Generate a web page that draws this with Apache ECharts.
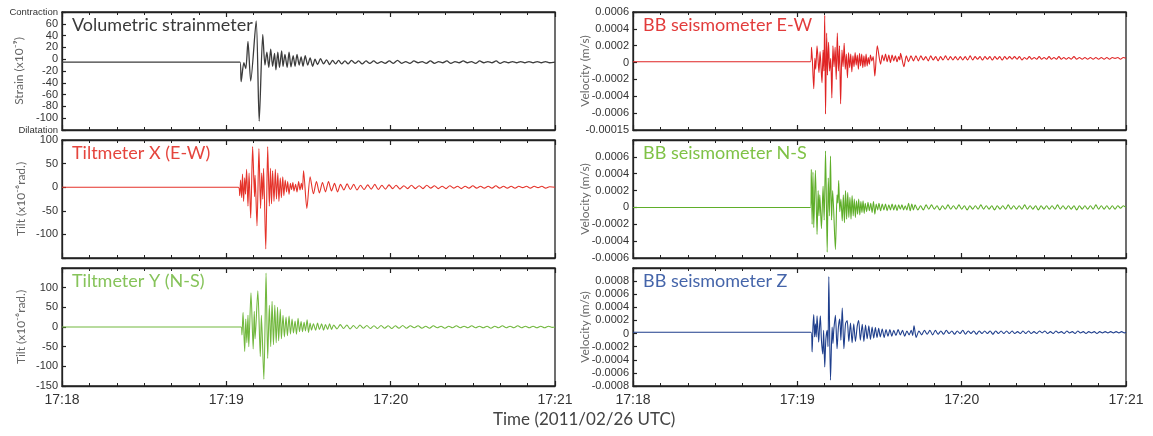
<!DOCTYPE html>
<html>
<head>
<meta charset="utf-8">
<script src="https://cdn.jsdelivr.net/npm/echarts@6/dist/echarts.min.js"></script>
<style>html,body{margin:0;padding:0;background:#fff;}#c{width:1153px;height:436px;}</style>
</head>
<body>
<div id="c"></div>
<script>
// time in seconds after 17:18:00 (2011/02/26 UTC)
const timeLabels = ['17:18', '17:19', '17:20', '17:21'];

const panelTitles = ['Volumetric strainmeter', 'Tiltmeter X (E-W)', 'Tiltmeter Y (N-S)',
  'BB seismometer E-W', 'BB seismometer N-S', 'BB seismometer Z'];

// Volumetric strain (x10^-9)
const strainData = [[0,-5],[65.0,-5],[65.4,-38],[66.4,-6],[67.1,-16],[67.9,30],[68.9,-37],[70.9,65],[72.0,-105],[73.3,42],[74.1,-10],[74.8,12],[75.5,-14],[76.2,17],[76.9,-12],[77.6,10],[78.1,-18],[78.8,12],[79.4,-14],[80.2,14],[80.7,-12],[81.4,8],[82.2,-14],[82.9,12],[83.6,-13],[84.4,6],[85.1,-12],[85.8,8],[86.6,-10],[87.3,4],[88.0,-12],[88.8,6],[89.7,-10],[90.6,2],[91.5,-12],[92.4,0],[93.3,-9],[94.4,1],[95.5,-8],[96.6,-1],[97.7,-9],[98.8,-2],[99.9,-8],[101.0,-2],[102.1,-8],[103.3,-3],[104.5,-8],[105.7,-2],[107,-7],[108.3,-3],[109.6,-8],[111,-3],[112.4,-7],[113.8,-3],[115.2,-7],[116.6,-4],[118,-7],[119.5,-3],[121,-7],[122.5,-2],[124,-7],[125.5,-4],[127,-7],[128.5,-3],[130,-6],[131.5,-4],[133,-7],[134.5,-3],[136,-7],[137.5,-4],[139,-6],[140.5,-3],[142,-7],[143.5,-4],[145,-6],[146.5,-3],[148,-6],[149.5,-4],[151,-7],[152.5,-3],[154,-6],[155.5,-4],[157,-6],[158.5,-3],[160,-7],[161.5,-4],[163,-6],[164.5,-4],[166,-6],[167.5,-4],[169,-6],[170.5,-4],[172,-6],[173.5,-4],[175,-6],[176.5,-4],[178,-6],[180,-5]];

// Tilt X (E-W) (x10^-6 rad.)
const tiltXData = [[0,0],[64.4,0],[64.9,-18],[65.2,15],[65.6,-22],[65.9,28],[66.3,-30],[66.7,20],[67.0,-15],[67.4,38],[67.9,-40],[68.3,30],[68.9,-65],[69.6,86],[70.3,-20],[70.5,25],[71.2,-82],[71.9,82],[72.5,-45],[72.9,30],[73.3,-25],[73.6,40],[74.4,-131],[75.1,86],[75.7,-40],[76.1,40],[76.5,-35],[76.9,35],[77.4,-30],[77.9,38],[78.3,-25],[78.8,30],[79.2,-30],[79.7,20],[80.1,-22],[80.6,22],[81.0,-18],[81.5,15],[82.0,-10],[82.4,12],[82.9,-15],[83.4,8],[83.8,-5],[84.3,10],[84.7,-8],[85.3,6],[85.8,-10],[86.4,12],[86.9,-6],[87.4,8],[87.8,-5],[88.2,35],[89.4,-45],[90.6,22],[91.8,-14],[92.9,12],[94.0,-12],[95.1,10],[96.2,-10],[97.3,12],[98.4,-8],[99.5,8],[100.6,-10],[101.7,6],[102.9,-6],[104.1,7],[105.3,-5],[106.5,6],[107.7,-6],[109,4],[110.3,-5],[111.6,5],[112.9,-4],[114.2,6],[115.5,-5],[116.8,4],[118.1,-4],[119.4,5],[120.7,-3],[122,4],[123.4,-4],[124.8,3],[126.2,-3],[127.6,4],[129,-3],[130.4,3],[131.8,-3],[133.2,4],[134.6,-2],[136,3],[137.4,-3],[138.8,2],[140.2,-3],[141.6,3],[143,-2],[144.4,2],[145.8,-3],[147.2,2],[148.6,-2],[150,3],[151.4,-2],[152.8,2],[154.2,-2],[155.6,2],[157,-2],[158.4,3],[159.8,-2],[161.2,2],[162.6,-2],[164,2],[165.4,-2],[166.8,2],[168.2,-1],[169.6,2],[171,-2],[172.4,2],[173.8,-1],[175.2,2],[176.6,-2],[178,1],[180,0]];

// Tilt Y (N-S) (x10^-6 rad.)
const tiltYData = [[0,0],[65.4,0],[65.7,-20],[66.1,37],[66.7,-62],[67.1,20],[67.5,-40],[67.9,30],[68.2,-50],[69.0,87],[69.8,-56],[70.2,40],[70.5,-30],[71.5,92],[72.4,-75],[72.8,30],[73.7,-133],[74.5,137],[75.1,-80],[75.7,55],[76.2,-50],[76.7,65],[77.2,-45],[77.7,55],[78.2,-40],[78.7,50],[79.1,-35],[79.7,45],[80.1,-30],[80.7,30],[81.2,-25],[81.8,25],[82.3,-22],[82.9,28],[83.4,-18],[84.0,20],[84.5,-15],[85.1,15],[85.6,-18],[86.2,22],[86.7,-12],[87.3,14],[87.8,-12],[88.4,12],[88.9,-10],[89.5,18],[90.0,-14],[90.6,10],[91.1,-8],[91.8,8],[92.6,-8],[93.3,10],[94.0,-6],[94.8,8],[95.5,-8],[96.2,6],[97.0,-6],[97.7,8],[98.4,-6],[99.2,5],[100.4,-5],[101.6,6],[102.8,-4],[104,5],[105.2,-5],[106.4,4],[107.6,-4],[108.8,5],[110,-3],[111.3,4],[112.6,-4],[113.9,3],[115.2,-4],[116.5,4],[117.8,-3],[119.1,3],[120.4,-4],[121.7,3],[123,-3],[124.4,4],[125.8,-3],[127.2,3],[128.6,-2],[130,3],[131.4,-3],[132.8,2],[134.2,-3],[135.6,3],[137,-2],[138.4,2],[139.8,-3],[141.2,2],[142.6,-2],[144,3],[145.4,-2],[146.8,2],[148.2,-2],[149.6,3],[151,-2],[152.4,2],[153.8,-2],[155.2,2],[156.6,-3],[158,2],[159.4,-2],[160.8,3],[162.2,-2],[163.6,2],[165,-2],[166.4,3],[167.8,-2],[169.2,2],[170.6,-2],[172,2],[173.4,-2],[174.8,2],[176.2,-2],[177.6,2],[179,-1],[180,0]];

// BB seismometer E-W velocity (m/s)
const ewData = [[0,0.1e-4],[64.8,0.1e-4],[65.2,1.8e-4],[66.0,-3.1e-4],[66.4,0.5e-4],[66.7,-0.8e-4],[67.2,2.0e-4],[67.9,-1.2e-4],[68.3,1.3e-4],[69.0,-2.4e-4],[69.4,1.5e-4],[69.7,-1.0e-4],[70.0,5.6e-4],[70.3,-6.1e-4],[70.7,3.5e-4],[71.0,-1.5e-4],[71.4,2.4e-4],[71.8,-1.0e-4],[72.2,0.5e-4],[72.6,-4.2e-4],[73.0,2.0e-4],[73.4,-0.5e-4],[73.8,1.8e-4],[74.2,-2.0e-4],[74.6,3.5e-4],[75.0,-1.0e-4],[75.4,2.0e-4],[75.8,-4.9e-4],[76.3,1.5e-4],[76.7,-0.5e-4],[77.1,2.3e-4],[77.5,-0.8e-4],[77.9,1.0e-4],[78.3,-1.8e-4],[78.7,1.2e-4],[79.1,-0.6e-4],[79.5,1.0e-4],[79.9,-1.1e-4],[80.3,0.8e-4],[80.7,-0.5e-4],[81.1,1.2e-4],[81.5,-0.3e-4],[81.9,0.9e-4],[82.3,-0.8e-4],[82.7,1.1e-4],[83.1,-0.4e-4],[83.5,1.0e-4],[83.9,-0.6e-4],[84.3,0.8e-4],[84.7,-0.5e-4],[85.1,1.0e-4],[85.5,-0.4e-4],[85.9,0.6e-4],[86.3,-0.2e-4],[86.7,0.9e-4],[87.2,0.2e-4],[87.7,0.7e-4],[88.3,-1.6e-4],[89.2,2.0e-4],[90.4,-0.2e-4],[91.0,0.9e-4],[91.6,0.2e-4],[92.2,1.0e-4],[92.8,0.1e-4],[93.4,0.9e-4],[94.0,0.0],[94.6,0.9e-4],[95.2,0.2e-4],[95.8,0.8e-4],[96.4,0.1e-4],[97.0,0.7e-4],[97.4,0.3e-4],[97.7,1.1e-4],[98.9,-0.5e-4],[99.8,0.8e-4],[100.6,0.1e-4],[101.5,0.8e-4],[102.4,0.2e-4],[103.3,0.8e-4],[104.2,0.2e-4],[105.1,0.8e-4],[106,0.3e-4],[106.9,0.7e-4],[107.8,0.2e-4],[108.7,0.8e-4],[109.6,0.3e-4],[110.5,0.7e-4],[111.4,0.2e-4],[112.3,0.7e-4],[113.2,0.3e-4],[114.1,0.8e-4],[115,0.3e-4],[115.9,0.7e-4],[116.8,0.3e-4],[117.7,0.7e-4],[118.6,0.3e-4],[119.5,0.7e-4],[120.4,0.3e-4],[121.3,0.7e-4],[122.2,0.3e-4],[123.1,0.8e-4],[124,0.3e-4],[124.9,0.7e-4],[125.8,0.4e-4],[126.7,0.7e-4],[127.6,0.3e-4],[128.5,0.7e-4],[129.4,0.4e-4],[130.3,0.7e-4],[131.2,0.3e-4],[132.1,0.7e-4],[133,0.4e-4],[133.9,0.7e-4],[134.8,0.3e-4],[135.7,0.7e-4],[136.6,0.4e-4],[137.5,0.7e-4],[138.4,0.4e-4],[139.3,0.7e-4],[140.2,0.4e-4],[141.1,0.7e-4],[142,0.3e-4],[142.9,0.6e-4],[143.8,0.4e-4],[144.7,0.7e-4],[145.6,0.4e-4],[146.5,0.6e-4],[147.4,0.4e-4],[148.3,0.7e-4],[149.2,0.4e-4],[150.1,0.6e-4],[151,0.4e-4],[151.9,0.7e-4],[152.8,0.4e-4],[153.7,0.6e-4],[154.6,0.4e-4],[155.5,0.7e-4],[156.4,0.4e-4],[157.3,0.6e-4],[158.2,0.4e-4],[159.1,0.6e-4],[160,0.4e-4],[161,0.7e-4],[162,0.4e-4],[163,0.6e-4],[164,0.4e-4],[165,0.6e-4],[166,0.4e-4],[167,0.6e-4],[168,0.4e-4],[169,0.6e-4],[170,0.4e-4],[171,0.6e-4],[172,0.4e-4],[173,0.6e-4],[174,0.4e-4],[175,0.6e-4],[176,0.5e-4],[177,0.6e-4],[178,0.4e-4],[179,0.6e-4],[180,0.5e-4]];

// BB seismometer N-S velocity (m/s)
const nsData = [[0,0],[64.8,0],[65.1,4.5e-4],[65.4,-2.0e-4],[65.7,4.2e-4],[66.0,-2.4e-4],[66.6,4.4e-4],[67.2,-3.2e-4],[67.6,2.0e-4],[67.9,-1.0e-4],[68.2,1.5e-4],[68.8,-2.5e-4],[69.4,2.5e-4],[69.8,-1.5e-4],[70.3,6.7e-4],[70.9,-5.3e-4],[71.3,3.5e-4],[71.7,-1.0e-4],[72.1,6.1e-4],[72.5,-1.5e-4],[72.9,2.0e-4],[73.9,-5.0e-4],[74.5,1.5e-4],[74.8,0.5e-4],[75.1,3.2e-4],[75.5,-0.5e-4],[75.9,1.0e-4],[76.4,-1.6e-4],[76.8,1.5e-4],[77.2,-1.8e-4],[77.6,2.0e-4],[78.0,-1.4e-4],[78.4,1.8e-4],[78.8,-1.2e-4],[79.2,1.2e-4],[79.6,-1.4e-4],[80.0,1.4e-4],[80.4,-1.0e-4],[80.8,1.0e-4],[81.2,-1.2e-4],[81.6,0.8e-4],[82.0,-0.8e-4],[82.4,1.0e-4],[82.8,-0.9e-4],[83.2,0.7e-4],[83.6,-0.6e-4],[84.0,0.8e-4],[84.4,-0.7e-4],[84.8,0.5e-4],[85.3,-0.5e-4],[85.8,0.6e-4],[86.3,-0.4e-4],[86.8,0.5e-4],[87.3,-0.6e-4],[87.8,0.7e-4],[88.3,-0.8e-4],[88.8,0.4e-4],[89.3,-0.3e-4],[89.8,0.5e-4],[90.4,-0.4e-4],[91.0,0.4e-4],[91.6,-0.3e-4],[92.2,0.4e-4],[92.8,-0.4e-4],[93.4,0.3e-4],[94,-0.3e-4],[94.6,0.4e-4],[95.2,-0.3e-4],[95.8,0.3e-4],[96.4,-0.4e-4],[97,0.3e-4],[97.6,-0.2e-4],[98.2,0.3e-4],[98.8,-0.3e-4],[99.4,0.2e-4],[100,-0.3e-4],[100.6,0.5e-4],[101.2,-0.4e-4],[101.8,0.4e-4],[102.4,-0.3e-4],[103,0.3e-4],[104,-0.3e-4],[105,0.2e-4],[106,-0.3e-4],[107,0.3e-4],[108,-0.2e-4],[109,0.3e-4],[110,-0.2e-4],[111,0.2e-4],[112,-0.3e-4],[113,0.2e-4],[114,-0.2e-4],[115,0.3e-4],[116,-0.2e-4],[117,0.2e-4],[118,-0.2e-4],[119,0.3e-4],[120,-0.2e-4],[121,0.2e-4],[122,-0.3e-4],[123,0.2e-4],[124,-0.2e-4],[125,0.2e-4],[126,-0.2e-4],[127,0.3e-4],[128,-0.2e-4],[129,0.2e-4],[130,-0.2e-4],[131,0.2e-4],[132,-0.3e-4],[133,0.2e-4],[134,-0.2e-4],[135,0.2e-4],[136,-0.2e-4],[137,0.3e-4],[138,-0.2e-4],[139,0.2e-4],[140,-0.2e-4],[141,0.2e-4],[142,-0.2e-4],[143,0.3e-4],[144,-0.2e-4],[145,0.2e-4],[146,-0.2e-4],[147,0.2e-4],[148,-0.3e-4],[149,0.2e-4],[150,-0.2e-4],[151,0.2e-4],[152,-0.2e-4],[153,0.2e-4],[154,-0.2e-4],[155,0.3e-4],[156,-0.2e-4],[157,0.2e-4],[158,-0.2e-4],[159,0.2e-4],[160,-0.2e-4],[161,0.2e-4],[162,-0.3e-4],[163,0.2e-4],[164,-0.2e-4],[165,0.2e-4],[166,-0.2e-4],[167,0.2e-4],[168,-0.2e-4],[169,0.3e-4],[170,-0.2e-4],[171,0.2e-4],[172,-0.2e-4],[173,0.2e-4],[174,-0.2e-4],[175,0.2e-4],[176,-0.2e-4],[177,0.2e-4],[178,-0.1e-4],[179,0.2e-4],[180,0]];

// BB seismometer Z velocity (m/s)
const zData = [[0,0.2e-4],[65.0,0.2e-4],[65.4,-2.8e-4],[65.7,1.0e-4],[66.0,2.9e-4],[66.3,-0.5e-4],[66.6,1.5e-4],[66.9,-0.5e-4],[67.2,2.7e-4],[67.8,-1.3e-4],[68.1,1.0e-4],[68.4,2.7e-4],[68.8,-1.0e-4],[69.3,-3.1e-4],[69.6,0.5e-4],[70.0,-5.1e-4],[70.4,-1.0e-4],[70.9,0.5e-4],[71.2,-2.0e-4],[71.5,8.7e-4],[72.1,-7.1e-4],[72.7,1.0e-4],[73.0,-1.5e-4],[73.3,0.5e-4],[73.9,2.8e-4],[74.5,-2.3e-4],[75.0,1.0e-4],[75.5,2.2e-4],[75.9,-1.0e-4],[76.4,3.9e-4],[77.0,-2.3e-4],[77.6,1.5e-4],[78.2,2.0e-4],[78.8,-1.2e-4],[79.4,1.6e-4],[80.0,-1.4e-4],[80.6,1.5e-4],[81.2,-1.2e-4],[81.9,1.2e-4],[82.4,2.0e-4],[83.0,-1.0e-4],[83.7,1.4e-4],[84.3,-1.2e-4],[84.9,1.3e-4],[85.5,-0.8e-4],[86.1,1.2e-4],[86.7,-0.9e-4],[87.3,1.0e-4],[87.9,-0.7e-4],[88.5,0.9e-4],[89.1,-0.6e-4],[89.7,0.8e-4],[90.3,-0.5e-4],[91.0,0.7e-4],[91.7,-0.6e-4],[92.4,0.6e-4],[93.1,-0.4e-4],[93.8,0.6e-4],[94.5,-0.4e-4],[95.2,0.5e-4],[96.0,-0.3e-4],[96.8,0.6e-4],[97.6,-0.2e-4],[98.4,0.5e-4],[99.2,-0.4e-4],[100.0,0.4e-4],[100.8,-0.2e-4],[101.6,0.5e-4],[102.1,-0.3e-4],[102.6,1.2e-4],[103.4,-0.6e-4],[104.4,0.4e-4],[105.4,-0.2e-4],[106.4,0.5e-4],[107.4,-0.1e-4],[108.4,0.5e-4],[109.4,-0.2e-4],[110.4,0.5e-4],[111.4,-0.1e-4],[112.4,0.4e-4],[113.4,-0.1e-4],[114.4,0.5e-4],[115.4,0.0],[116.4,0.4e-4],[117.4,-0.1e-4],[118.4,0.4e-4],[119.4,0.0],[120.4,0.5e-4],[121.4,-0.1e-4],[122.4,0.4e-4],[123.4,0.0],[124.4,0.4e-4],[125.4,-0.1e-4],[126.4,0.4e-4],[127.4,0.0],[128.4,0.4e-4],[129.4,0.0],[130.4,0.4e-4],[131.4,-0.1e-4],[132.4,0.4e-4],[133.4,0.0],[134.4,0.4e-4],[135.4,0.0],[136.4,0.4e-4],[137.4,0.0],[138.4,0.4e-4],[139.4,0.0],[140.4,0.3e-4],[141.4,0.0],[142.4,0.4e-4],[143.4,0.0],[144.4,0.4e-4],[145.4,0.0],[146.4,0.3e-4],[147.4,0.0],[148.4,0.4e-4],[149.4,0.1e-4],[150.4,0.4e-4],[151.4,0.0],[152.4,0.3e-4],[153.4,0.0],[154.4,0.4e-4],[155.4,0.1e-4],[156.4,0.3e-4],[157.4,0.0],[158.4,0.4e-4],[159.4,0.1e-4],[160.4,0.3e-4],[161.4,0.0],[162.4,0.4e-4],[163.4,0.1e-4],[164.4,0.3e-4],[165.4,0.0],[166.4,0.3e-4],[167.4,0.1e-4],[168.4,0.3e-4],[169.4,0.0],[170.4,0.3e-4],[171.4,0.1e-4],[172.4,0.3e-4],[173.4,0.1e-4],[174.4,0.3e-4],[175.4,0.1e-4],[176.4,0.3e-4],[177.4,0.1e-4],[178.4,0.3e-4],[179.4,0.1e-4],[180,0.2e-4]];

const chart = echarts.init(document.getElementById('c'), null, {renderer: 'canvas'});

const LEFT_X = 62, RIGHT_X = 633, W = 493, H = 118;
const tops = [12, 140, 268];
const grids = [];
[LEFT_X, RIGHT_X].forEach(l => tops.forEach(t => grids.push({
  left: l, top: t, width: W, height: H, show: true, borderColor: '#222', borderWidth: 1.3, backgroundColor: 'transparent'
})));

const lineColors = ['#3c3c3c', '#e5332a', '#72b83e', '#e02424', '#5fae2a', '#1e3e8c'];
const titleColors = ['#3a3a3a', '#e5453d', '#86c35a', '#e23b3b', '#7fc246', '#4565aa'];
const seriesData = [strainData, tiltXData, tiltYData, ewData, nsData, zData];

const xAxes = [];
grids.forEach((g, i) => {
  const isBottom = (i === 2 || i === 5);
  ['bottom', 'top'].forEach(pos => {
    xAxes.push({
      type: 'value', gridIndex: i, position: pos, min: 0, max: 180, interval: 60,
      axisLine: {show: true, onZero: false, lineStyle: {color: '#222', width: 1.3}},
      axisTick: {show: true, inside: true, length: 5, lineStyle: {color: '#222', width: 1.2}},
      minorTick: {show: true, splitNumber: 6, length: 3, lineStyle: {color: '#222', width: 1}},
      splitLine: {show: false}, minorSplitLine: {show: false},
      axisLabel: {
        show: isBottom && pos === 'bottom', margin: 7, fontSize: 14, color: '#333',
        fontFamily: 'Liberation Sans',
        formatter: v => timeLabels[Math.round(v / 60)]
      }
    });
  });
});

const velFmt = v => { const r = Math.round(v * 1e5) / 1e5; return r === 0 ? '0' : r.toFixed(4); };
const yCfg = [
  {min: -120, max: 80, interval: 20, name: 'Strain (x10\u207B\u2079)', gap: 37,
   fmt: v => v === 80 ? '{s|Contraction}' : (v === -120 ? '{s|Dilatation}' : String(v))},
  {min: -150, max: 100, interval: 50, name: 'Tilt (x10\u207B\u2076rad.)', gap: 35,
   fmt: v => v === -150 ? '' : String(v)},
  {min: -150, max: 150, interval: 50, name: 'Tilt (x10\u207B\u2076rad.)', gap: 35,
   fmt: v => v === 150 ? '' : String(v)},
  {min: -0.0008, max: 0.0006, interval: 0.0002, name: 'Velocity (m/s)', gap: 42,
   fmt: v => Math.abs(v + 0.0008) < 1e-9 ? '-0.00015' : velFmt(v)},
  {min: -0.0006, max: 0.0008, interval: 0.0002, name: 'Velocity (m/s)', gap: 42,
   fmt: v => Math.abs(v - 0.0008) < 1e-9 ? '' : velFmt(v)},
  {min: -0.0008, max: 0.001, interval: 0.0002, name: 'Velocity (m/s)', gap: 42,
   fmt: v => Math.abs(v - 0.001) < 1e-9 ? '' : velFmt(v)}
];
const yAxes = yCfg.map((c, i) => ({
  type: 'value', gridIndex: i, min: c.min, max: c.max, interval: c.interval,
  name: c.name, nameLocation: 'middle', nameRotate: 90, nameGap: c.gap, nameMoveOverlap: false,
  nameTextStyle: {fontSize: 12, color: '#666', fontFamily: 'Lato'},
  axisLine: {show: true, onZero: false, lineStyle: {color: '#222', width: 1.3}},
  axisTick: {show: true, inside: true, length: 4, lineStyle: {color: '#222', width: 1.2}},
  splitLine: {show: false},
  axisLabel: {
    margin: 4, fontSize: 11, color: '#333', fontFamily: 'Liberation Sans', formatter: c.fmt,
    rich: {s: {fontSize: 9.5, color: '#333', fontFamily: 'Liberation Sans'}}
  }
}));

const titles = panelTitles.map((t, i) => ({
  text: t, left: (i < 3 ? LEFT_X : RIGHT_X) + 10, top: tops[i % 3] + 4, padding: 0,
  textStyle: {fontSize: 18, fontWeight: 'normal', color: titleColors[i], fontFamily: 'Lato'}
}));

const series = seriesData.map((d, i) => ({
  type: 'line', xAxisIndex: i * 2, yAxisIndex: i, data: d, showSymbol: false,
  symbol: 'none', smooth: 0.25, lineStyle: {color: lineColors[i], width: i === 0 ? 1.3 : 1.1},
  animation: false, silent: true
}));

chart.setOption({
  animation: false,
  backgroundColor: '#fff',
  title: titles,
  grid: grids,
  xAxis: xAxes,
  yAxis: yAxes,
  series: series,
  graphic: [{
    type: 'text', left: 493, top: 411,
    style: {text: 'Time (2011/02/26 UTC)', fontSize: 17, fill: '#444', fontFamily: 'Lato'}
  }]
});
</script>
</body>
</html>
